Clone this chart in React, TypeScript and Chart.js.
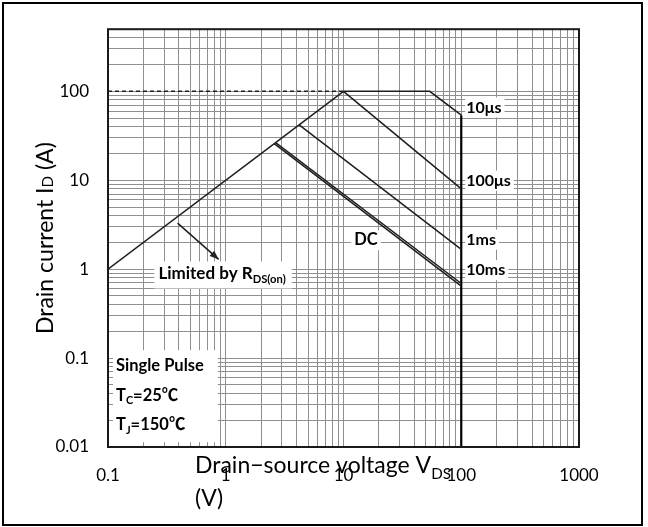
import React, { useEffect, useRef } from 'react';
import { Chart, registerables } from 'chart.js';

Chart.register(...registerables);

// ---- axis ranges and tick labels ----
const X_MIN = 0.1;
const X_MAX = 1000;
const Y_MIN = 0.01;
const Y_MAX = 500;
const X_DECADES = [0.1, 1, 10, 100];
const Y_DECADES = [0.01, 0.1, 1, 10, 100];
const MINOR_STEPS = [1, 2, 3, 4, 5, 6, 7, 8, 9];
const X_TICK_LABELS = ['0.1', '1', '10', '100', '1000'];
const Y_TICK_LABELS = ['0.01', '0.1', '1', '10', '100'];

// ---- SOA boundary series (V, A) ----
const RDS_V = [0.1, 10];
const RDS_I = [1, 100];
const DASH_V = [0.1, 10];
const DASH_I = [100, 100];
const US10_V = [10, 54, 100];
const US10_I = [100, 100, 54];
const US100_V = [10, 100];
const US100_I = [100, 8];
const MS1_V = [4.2, 100];
const MS1_I = [42, 1.67];
const MS10_V = [2.65, 100];
const MS10_I = [26.5, 0.69];
const DC_V = [2.58, 100];
const DC_I = [25.8, 0.645];
const VMAX_V = [100, 100];
const VMAX_I = [54, 0.01];
const ARROW_V = [0.39, 0.87];
const ARROW_I = [3.3, 1.29];

// ---- curve labels ----
const CURVE_LABELS = ['10μs', '100μs', '1ms', '10ms'];
const CURVE_LABEL_I = [65.9, 9.9, 2.15, 0.975];

const FONT = "Lato, 'Noto Sans CJK SC', 'DejaVu Sans', sans-serif";

type Part = [string, boolean]; // [text, isSubscript]

function richWidth(ctx: CanvasRenderingContext2D, parts: Part[], size: number, weight: string) {
  let w = 0;
  for (const [t, s] of parts) {
    ctx.font = `${weight} ${s ? size * 0.66 : size}px ${FONT}`;
    w += ctx.measureText(t).width;
  }
  return w;
}

function drawRich(ctx: CanvasRenderingContext2D, x: number, y: number, parts: Part[], size: number, weight: string, subShift = 0.22) {
  let cx = x;
  ctx.textBaseline = 'alphabetic';
  ctx.textAlign = 'left';
  for (const [t, s] of parts) {
    ctx.font = `${weight} ${s ? size * 0.66 : size}px ${FONT}`;
    ctx.fillText(t, cx, s ? y + size * subShift : y);
    cx += ctx.measureText(t).width;
  }
  return cx - x;
}

function gridValues(decades: number[], max: number) {
  const vals: number[] = [];
  for (const d of decades) for (const m of MINOR_STEPS) vals.push(d * m);
  vals.push(decades[decades.length - 1] * 10);
  return vals.filter((v) => v <= max * (1 + 1e-9));
}

function labelFor(value: number, labels: string[]) {
  for (const l of labels) {
    if (Math.abs(Math.log10(value) - Math.log10(parseFloat(l))) < 1e-6) return l;
  }
  return '';
}

const pts = (xs: number[], ys: number[]) => xs.map((x, i) => ({ x, y: ys[i] }));

const overlayPlugin = {
  id: 'overlay',
  beforeDatasetsDraw(chart: any) {
    const ctx: CanvasRenderingContext2D = chart.ctx;
    const xs = chart.scales.x;
    const ys = chart.scales.y;
    ctx.save();
    ctx.fillStyle = '#000';

    // curve labels at V = 100
    const lx = xs.getPixelForValue(100) + 4;
    CURVE_LABELS.forEach((t, i) => {
      const y = ys.getPixelForValue(CURVE_LABEL_I[i]);
      ctx.font = `bold 16px ${FONT}`;
      const w = ctx.measureText(t).width;
      ctx.fillStyle = '#fff';
      ctx.fillRect(lx, y - 10, w + 4, 20);
      ctx.fillStyle = '#000';
      ctx.textBaseline = 'middle';
      ctx.textAlign = 'left';
      ctx.fillText(t, lx + 1, y);
    });

    // DC label
    {
      const x = xs.getPixelForValue(15.5);
      const y = ys.getPixelForValue(2.12);
      ctx.font = `bold 16.5px ${FONT}`;
      const w = ctx.measureText('DC').width;
      ctx.fillStyle = '#fff';
      ctx.fillRect(x - w / 2 - 3, y - 10, w + 6, 20);
      ctx.fillStyle = '#000';
      ctx.textAlign = 'center';
      ctx.textBaseline = 'middle';
      ctx.fillText('DC', x, y);
    }

    // Limited by RDS(on)
    {
      const parts: Part[] = [['Limited by R', false], ['DS(on)', true]];
      const x = xs.getPixelForValue(0.268);
      const y = ys.getPixelForValue(0.873) + 5;
      const w = richWidth(ctx, parts, 17, 'bold');
      ctx.fillStyle = '#fff';
      ctx.fillRect(x - 4, y - 18, w + 10, 27);
      ctx.fillStyle = '#000';
      drawRich(ctx, x, y, parts, 17, 'bold');
    }

    // Single pulse block
    {
      const x = xs.getPixelForValue(0.117);
      const y0 = ys.getPixelForValue(0.0711);
      const lines: Part[][] = [
        [['Single Pulse', false]],
        [['T', false], ['C', true], ['=25℃', false]],
        [['T', false], ['J', true], ['=150℃', false]],
      ];
      const sizes = [16.5, 16.5, 16.5];
      let mw = 0;
      lines.forEach((p, i) => (mw = Math.max(mw, richWidth(ctx, p, sizes[i], 'bold'))));
      ctx.fillStyle = '#fff';
      ctx.fillRect(x - 3, y0 - 21, mw + 17, 21 + 29.5 * 2 + 12);
      ctx.fillStyle = '#000';
      lines.forEach((p, i) => drawRich(ctx, x, y0 + i * 29.5, p, sizes[i], 'bold'));
    }
    ctx.restore();
  },
  afterDraw(chart: any) {
    const ctx: CanvasRenderingContext2D = chart.ctx;
    const a = chart.chartArea;
    const xs = chart.scales.x;
    const ys = chart.scales.y;
    ctx.save();
    // plot frame
    ctx.strokeStyle = '#1a1a1a';
    ctx.lineWidth = 2;
    ctx.strokeRect(a.left, a.top, a.right - a.left, a.bottom - a.top);
    // outer frame
    ctx.strokeStyle = '#000';
    ctx.strokeRect(3, 3, 639, 522);

    // arrow head
    const x1 = xs.getPixelForValue(ARROW_V[0]);
    const y1 = ys.getPixelForValue(ARROW_I[0]);
    const x2 = xs.getPixelForValue(ARROW_V[1]);
    const y2 = ys.getPixelForValue(ARROW_I[1]);
    const ang = Math.atan2(y2 - y1, x2 - x1);
    ctx.fillStyle = '#222';
    ctx.beginPath();
    ctx.moveTo(x2, y2);
    ctx.lineTo(x2 - 9 * Math.cos(ang) + 3.5 * Math.sin(ang), y2 - 9 * Math.sin(ang) - 3.5 * Math.cos(ang));
    ctx.lineTo(x2 - 9 * Math.cos(ang) - 3.5 * Math.sin(ang), y2 - 9 * Math.sin(ang) + 3.5 * Math.cos(ang));
    ctx.closePath();
    ctx.fill();

    // x axis title
    ctx.fillStyle = '#000';
    drawRich(ctx, 195, 473, [['Drain−source voltage V', false], ['DS', true]], 23, 'normal', 0.25);
    ctx.font = `normal 23px ${FONT}`;
    ctx.textAlign = 'left';
    ctx.textBaseline = 'alphabetic';
    ctx.fillText('(V)', 195, 506);

    // y axis title
    ctx.translate(53, (a.top + a.bottom) / 2);
    ctx.rotate(-Math.PI / 2);
    const yparts: Part[] = [['Drain current I', false], ['D', true], [' (A)', false]];
    const w = richWidth(ctx, yparts, 23, 'normal');
    drawRich(ctx, -w / 2, 0, yparts, 23, 'normal', 0);
    ctx.restore();
  },
};

export default function App() {
  const ref = useRef<HTMLCanvasElement>(null);
  useEffect(() => {
    document.body.style.margin = '0';
    if (!ref.current) return;
    const line = (data: any[], extra: any = {}) => ({
      data,
      showLine: true,
      borderColor: '#1e1e1e',
      borderWidth: 1.5,
      pointRadius: 0,
      fill: false,
      tension: 0,
      ...extra,
    });
    const chart = new Chart(ref.current, {
      type: 'scatter',
      data: {
        datasets: [
          line(pts(DASH_V, DASH_I), { borderDash: [4, 3] }),
          line(pts(RDS_V, RDS_I)),
          line(pts(US10_V, US10_I)),
          line(pts(US100_V, US100_I)),
          line(pts(MS1_V, MS1_I)),
          line(pts(MS10_V, MS10_I)),
          line(pts(DC_V, DC_I)),
          line(pts(VMAX_V, VMAX_I), { borderWidth: 2.2, borderColor: '#000' }),
          line(pts(ARROW_V, ARROW_I)),
        ],
      },
      options: {
        animation: false,
        responsive: false,
        maintainAspectRatio: false,
        layout: { padding: { left: 0, top: 24, right: 69, bottom: 0 } },
        plugins: { legend: { display: false }, tooltip: { enabled: false } },
        scales: {
          x: {
            type: 'logarithmic',
            min: X_MIN,
            max: X_MAX,
            afterFit: (s: any) => { s.height = 80; },
            afterBuildTicks: (s: any) => {
              s.ticks = gridValues(X_DECADES, X_MAX).map((v) => ({ value: v }));
            },
            grid: { color: '#8f8f8f', lineWidth: 1, drawTicks: false },
            border: { display: false },
            ticks: {
              autoSkip: false,
              maxRotation: 0,
              padding: 18,
              color: '#000',
              font: { family: FONT, size: 17 },
              callback: (v: any) => labelFor(Number(v), X_TICK_LABELS),
            },
          },
          y: {
            type: 'logarithmic',
            min: Y_MIN,
            max: Y_MAX,
            afterFit: (s: any) => { s.width = 108; },
            afterBuildTicks: (s: any) => {
              s.ticks = gridValues(Y_DECADES, Y_MAX).map((v) => ({ value: v }));
            },
            grid: { color: '#8f8f8f', lineWidth: 1, drawTicks: false },
            border: { display: false },
            ticks: {
              autoSkip: false,
              padding: 19,
              color: '#000',
              font: { family: FONT, size: 17 },
              callback: (v: any) => labelFor(Number(v), Y_TICK_LABELS),
            },
          },
        },
      },
      plugins: [overlayPlugin],
    } as any);
    return () => chart.destroy();
  }, []);
  return (
    <div style={{ width: 648, height: 527, background: '#fff' }}>
      <canvas ref={ref} width={648} height={527} style={{ display: 'block' }} />
    </div>
  );
}
